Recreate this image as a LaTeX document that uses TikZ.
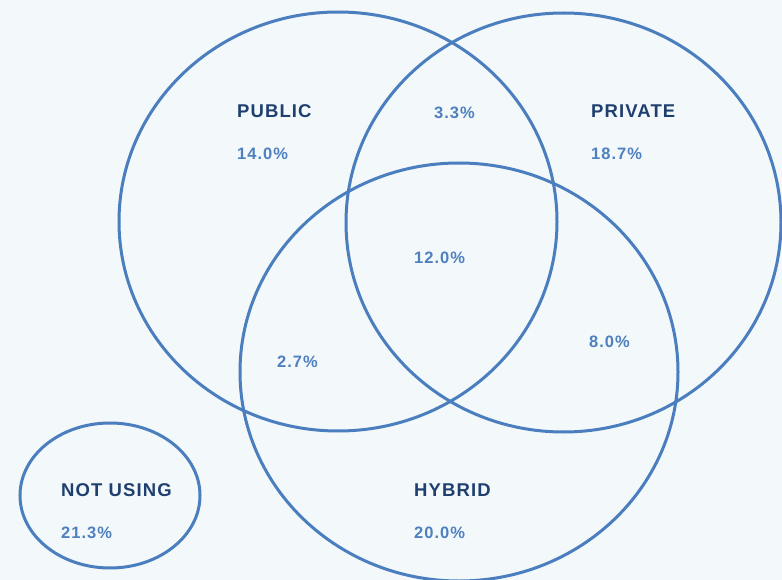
\documentclass[tikz,border=0pt]{standalone}
\usepackage{fontspec}
\setmainfont{Liberation Sans}
\definecolor{bg}{HTML}{F3F8FA}
\definecolor{ring}{HTML}{4A7EBE}
\definecolor{title}{HTML}{1F3F6E}
\definecolor{pct}{HTML}{4E80C0}
\begin{document}
\begin{tikzpicture}[x=1pt,y=-1pt,
  ring/.style={draw=ring,line width=3pt},
  ttl/.style={anchor=west,inner sep=0pt,text=title,font=\fontsize{18.5}{20}\selectfont\bfseries\addfontfeature{LetterSpace=6}},
  pc/.style={anchor=west,inner sep=0pt,text=pct,font=\fontsize{16.5}{18}\selectfont\bfseries\addfontfeature{LetterSpace=6}}]
\fill[bg] (0,0) rectangle (782,580);
\useasboundingbox (0,0) rectangle (782,580);
\begin{scope}
\clip (0,0) rectangle (782,580);
\draw[ring] (338,221.5) ellipse [x radius=219, y radius=209.5];
\draw[ring] (563.5,222.5) ellipse [x radius=217.5, y radius=209.5];
\draw[ring] (459,372) ellipse [x radius=219, y radius=209];
\draw[ring] (110,495.5) ellipse [x radius=90, y radius=72.5];
\end{scope}
\node[ttl] (pub) at (237,111) {PUBLIC};
\node[pc] (pubv) at (237,154) {14.0\%};
\node[pc] (pp) at (434,113) {3.3\%};
\node[ttl] (pri) at (591,111) {PRIVATE};
\node[pc] (priv) at (591,154) {18.7\%};
\node[pc] (all) at (414,258) {12.0\%};
\node[pc] (ph) at (277,362) {2.7\%};
\node[pc] (prh) at (589,342) {8.0\%};
\node[ttl] (nu) at (61,490) {NOT USING};
\node[pc] (nuv) at (61,533) {21.3\%};
\node[ttl] (hy) at (414,490) {HYBRID};
\node[pc] (hyv) at (414,533) {20.0\%};
\end{tikzpicture}
\end{document}
